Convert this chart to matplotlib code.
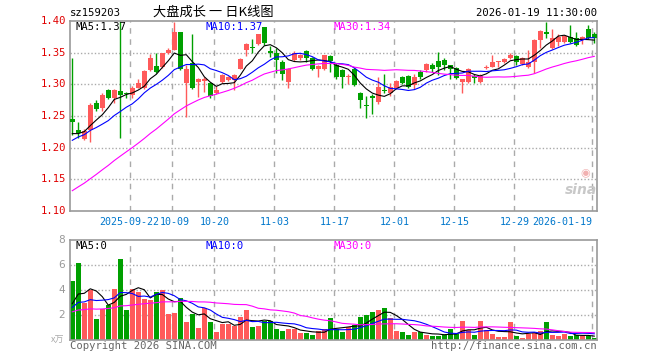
import matplotlib
matplotlib.use('Agg')
import matplotlib.pyplot as plt
import numpy as np
import pandas as pd

plt.rcParams['font.family'] = ['DejaVu Sans Mono', 'Noto Sans CJK SC']

# daily K data (88 trading days)
open_p = [1.246, 1.228, 1.214, 1.228, 1.271, 1.262, 1.291, 1.279, 1.289, 1.287,
          1.283, 1.295, 1.295, 1.323, 1.329, 1.328, 1.349, 1.355, 1.382, 1.302,
          1.333, 1.304, 1.305, 1.302, 1.286, 1.304, 1.307, 1.307, 1.325, 1.354,
          1.358, 1.363, 1.391, 1.353, 1.349, 1.336, 1.304, 1.338, 1.341, 1.352,
          1.342, 1.325, 1.325, 1.345, 1.331, 1.323, 1.311, 1.325, 1.286, 1.267,
          1.281, 1.272, 1.290, 1.286, 1.295, 1.312, 1.313, 1.299, 1.320, 1.323,
          1.331, 1.337, 1.338, 1.331, 1.326, 1.304, 1.304, 1.313, 1.304, 1.326,
          1.328, 1.335, 1.336, 1.341, 1.344, 1.332, 1.328, 1.336, 1.370, 1.383,
          1.357, 1.367, 1.367, 1.375, 1.373, 1.370, 1.388, 1.379]
close_p = [1.241, 1.223, 1.226, 1.267, 1.261, 1.283, 1.279, 1.291, 1.283, 1.284,
           1.295, 1.302, 1.321, 1.342, 1.319, 1.349, 1.355, 1.382, 1.324, 1.324,
           1.294, 1.309, 1.309, 1.281, 1.291, 1.315, 1.311, 1.315, 1.340, 1.363,
           1.357, 1.379, 1.365, 1.349, 1.339, 1.317, 1.325, 1.350, 1.346, 1.342,
           1.325, 1.329, 1.346, 1.337, 1.312, 1.312, 1.312, 1.299, 1.275, 1.266,
           1.279, 1.296, 1.289, 1.296, 1.305, 1.302, 1.296, 1.312, 1.312, 1.332,
           1.325, 1.328, 1.331, 1.325, 1.310, 1.308, 1.325, 1.310, 1.313, 1.327,
           1.336, 1.336, 1.340, 1.347, 1.336, 1.341, 1.336, 1.370, 1.384, 1.379,
           1.373, 1.375, 1.377, 1.367, 1.362, 1.374, 1.373, 1.373]
high_p = [1.342, 1.240, 1.229, 1.270, 1.275, 1.287, 1.292, 1.293, 1.400, 1.288,
          1.297, 1.309, 1.322, 1.348, 1.349, 1.350, 1.358, 1.399, 1.382, 1.330,
          1.380, 1.310, 1.311, 1.303, 1.297, 1.317, 1.313, 1.316, 1.341, 1.365,
          1.371, 1.380, 1.391, 1.360, 1.357, 1.338, 1.326, 1.352, 1.348, 1.354,
          1.343, 1.331, 1.347, 1.346, 1.334, 1.324, 1.316, 1.328, 1.288, 1.281,
          1.285, 1.311, 1.316, 1.302, 1.307, 1.313, 1.314, 1.316, 1.322, 1.334,
          1.334, 1.351, 1.341, 1.331, 1.328, 1.309, 1.326, 1.316, 1.316, 1.331,
          1.346, 1.337, 1.341, 1.350, 1.347, 1.343, 1.354, 1.371, 1.386, 1.398,
          1.387, 1.379, 1.378, 1.394, 1.383, 1.377, 1.394, 1.382]
low_p = [1.220, 1.215, 1.212, 1.209, 1.258, 1.258, 1.277, 1.270, 1.215, 1.279,
         1.279, 1.294, 1.293, 1.321, 1.318, 1.326, 1.348, 1.354, 1.322, 1.249,
         1.292, 1.280, 1.288, 1.278, 1.284, 1.302, 1.305, 1.291, 1.324, 1.345,
         1.349, 1.362, 1.362, 1.343, 1.318, 1.307, 1.295, 1.337, 1.339, 1.336,
         1.322, 1.312, 1.323, 1.320, 1.309, 1.295, 1.301, 1.297, 1.262, 1.247,
         1.253, 1.269, 1.287, 1.281, 1.293, 1.300, 1.295, 1.293, 1.308, 1.320,
         1.320, 1.315, 1.323, 1.309, 1.309, 1.286, 1.302, 1.302, 1.302, 1.325,
         1.327, 1.327, 1.333, 1.340, 1.330, 1.330, 1.326, 1.318, 1.357, 1.373,
         1.356, 1.361, 1.366, 1.365, 1.360, 1.363, 1.372, 1.365]
volume = [4.75, 6.19, 2.99, 4.00, 1.68, 2.48, 2.80, 4.08, 6.48, 2.40,
          4.08, 3.87, 3.28, 3.20, 3.84, 4.00, 2.08, 2.20, 3.36, 1.44,
          2.08, 0.99, 2.56, 1.44, 0.67, 1.31, 1.31, 1.15, 1.81, 2.40,
          1.07, 1.15, 1.55, 1.55, 0.88, 0.75, 0.88, 0.88, 0.59, 0.53,
          0.40, 0.72, 0.85, 1.80, 0.88, 0.67, 1.01, 1.20, 1.87, 2.00,
          2.27, 2.40, 2.59, 1.79, 0.75, 0.67, 0.40, 0.67, 0.67, 0.40,
          0.32, 0.32, 0.40, 0.88, 0.45, 1.55, 0.80, 0.40, 1.55, 0.80,
          0.48, 0.27, 0.27, 1.47, 0.32, 0.13, 0.48, 0.53, 0.75, 1.47,
          0.40, 0.32, 0.48, 0.32, 0.40, 0.32, 0.32, 0.19]

# earlier days (off-screen), estimated so the moving averages start where the chart shows
prev_close = [1.040, 1.050, 1.060, 1.055, 1.065, 1.070, 1.060, 1.075, 1.080, 1.095,
              1.090, 1.100, 1.105, 1.110, 1.115, 1.120, 1.130, 1.135, 1.140, 1.150,
              1.170, 1.190, 1.200, 1.215, 1.230, 1.223, 1.210, 1.220, 1.217]
prev_volume = [1.8, 2.2, 1.9, 2.5, 2.0, 1.7, 2.3, 2.1, 1.9, 2.4,
               2.2, 1.8, 2.0, 2.6, 2.1, 1.9, 2.3, 2.0, 1.8, 2.1,
               2.1, 2.6, 2.2, 2.4, 2.2, 2.3, 2.7, 2.2, 2.55]

tick_idx = [10, 17, 24, 34, 44, 54, 64, 74, 87]
tick_labels = ['2025-09-22', '10-09', '10-20', '11-03', '11-17',
               '12-01', '12-15', '12-29', '2026-01-19']

RED = '#ff5a5a'
GREEN = '#00a000'
GRID = '#aaaaaa'
FRAME = '#999999'

n = len(close_p)
x = np.arange(n)
n0 = len(prev_close)
cs = pd.Series(prev_close + close_p)
vs = pd.Series(prev_volume + volume)
ma = {k: cs.rolling(k).mean().values[n0:] for k in (5, 10, 30)}
vma = {k: vs.rolling(k).mean().values[n0:] for k in (5, 10, 30)}

W, H = 660, 360
fig = plt.figure(figsize=(6.6, 3.6), dpi=100)
ax = fig.add_axes([70 / W, 1 - 211 / H, 527 / W, 190 / H])
axv = fig.add_axes([70 / W, 1 - 340 / H, 527 / W, 100 / H])

colors = [RED if c >= o else GREEN for o, c in zip(open_p, close_p)]

for a in (ax, axv):
    for s in a.spines.values():
        s.set_color(FRAME)
        s.set_linewidth(1.2)
    a.set_xlim(-0.38, 87.45)
    a.set_xticks([])
    a.tick_params(length=0)
    for t in tick_idx:
        a.axvline(t - 0.33, color=GRID, lw=1, ls=(0, (4, 4)), zorder=0)

# price panel
ax.set_ylim(1.10, 1.40)
for yv in [1.15, 1.20, 1.25, 1.30, 1.35]:
    ax.axhline(yv, color=GRID, lw=1, ls=(0, (1, 1.5)), zorder=0)
ax.set_yticks([])

body_lo = [min(o, c) for o, c in zip(open_p, close_p)]
body_h = [max(abs(c - o), 0.0016) for o, c in zip(open_p, close_p)]
ax.vlines(x, low_p, high_p, colors=colors, lw=1, zorder=2)
ax.bar(x, body_h, bottom=body_lo, width=0.75, color=colors, lw=0, zorder=3)

ax.plot(x, ma[5], color='black', lw=0.8, zorder=4)
ax.plot(x, ma[10], color='#0000ff', lw=0.8, zorder=4)
ax.plot(x, ma[30], color='#ff00ff', lw=0.8, zorder=4)

# volume panel
axv.set_ylim(0, 8)
for yv in [2, 4, 6]:
    axv.axhline(yv, color=GRID, lw=1, ls=(0, (1, 1.5)), zorder=0)
axv.set_yticks([])
axv.bar(x, volume, width=0.88, color=colors, lw=0, zorder=2)
axv.plot(x, vma[5], color='black', lw=0.8, zorder=4)
axv.plot(x, vma[10], color='#0000ff', lw=0.8, zorder=4)
axv.plot(x, vma[30], color='#ff00ff', lw=0.8, zorder=4)


def ftext(px, py, s, **kw):
    fig.text(px / W, 1 - py / H, s, **kw)


fs = 7.2
# price axis labels
for yv in [1.10, 1.15, 1.20, 1.25, 1.30, 1.35, 1.40]:
    py = 211 - (yv - 1.10) / 0.30 * 190
    ftext(66, py, f'{yv:.2f}', color='#e00000', fontsize=7.6, ha='right', va='center')

# volume axis labels
for v in [2, 4, 6, 8]:
    py = 340 - v * 12.5
    ftext(65, py, str(v), color='#999999', fontsize=7.6, ha='right', va='center',
          family='DejaVu Sans')
ftext(64, 340, 'x万', color='#aaaaaa', fontsize=6.5, ha='right', va='center',
      family=['Noto Sans CJK SC', 'DejaVu Sans'])

# date labels
for t, lab in zip(tick_idx, tick_labels):
    px = 72.3 + 6 * t - 2
    if lab == tick_labels[-1]:
        ftext(px, 222, lab, color='#0077cc', fontsize=fs, ha='right', va='center')
    elif lab == tick_labels[0]:
        ftext(px + 29, 222, lab, color='#0077cc', fontsize=fs, ha='right', va='center')
    elif lab == tick_labels[1]:
        ftext(px - 13, 222, lab, color='#0077cc', fontsize=fs, ha='left', va='center')
    else:
        ftext(px, 222, lab, color='#0077cc', fontsize=fs, ha='center', va='center')

# header
ftext(70, 12.5, 'sz159203', color='black', fontsize=7.6, ha='left', va='center')
ftext(213, 12, '大盘成长 一 日K线图', color='black', fontsize=9.5, ha='center', va='center',
      family=['Noto Sans CJK SC', 'DejaVu Sans'])
ftext(597, 12.5, '2026-01-19 11:30:00', color='black', fontsize=7.6, ha='right', va='center')

# legends
ftext(75, 26.5, 'MA5:1.37', color='black', fontsize=7.6, ha='left', va='center')
ftext(205, 26.5, 'MA10:1.37', color='#0000ff', fontsize=7.6, ha='left', va='center')
ftext(334, 26.5, 'MA30:1.34', color='#ff00ff', fontsize=7.6, ha='left', va='center')
ftext(75, 246, 'MA5:0', color='black', fontsize=7.6, ha='left', va='center')
ftext(205, 246, 'MA10:0', color='#0000ff', fontsize=7.6, ha='left', va='center')
ftext(334, 246, 'MA30:0', color='#ff00ff', fontsize=7.6, ha='left', va='center')

# footer
ftext(70, 346, 'Copyright 2026 SINA.COM', color='#666666', fontsize=7.6, ha='left', va='center')
ftext(597, 346, 'http://finance.sina.com.cn', color='#666666', fontsize=7.6, ha='right', va='center')

# sina watermark
ftext(585, 173, '◉', color='#f2b0b0', fontsize=8, ha='center', va='center',
      family='DejaVu Sans')
ftext(581, 190, 'sina', color='#c8c8c8', fontsize=10, ha='center', va='center',
      style='italic', weight='bold', family='DejaVu Sans')

fig.savefig('out.png', dpi=100)
